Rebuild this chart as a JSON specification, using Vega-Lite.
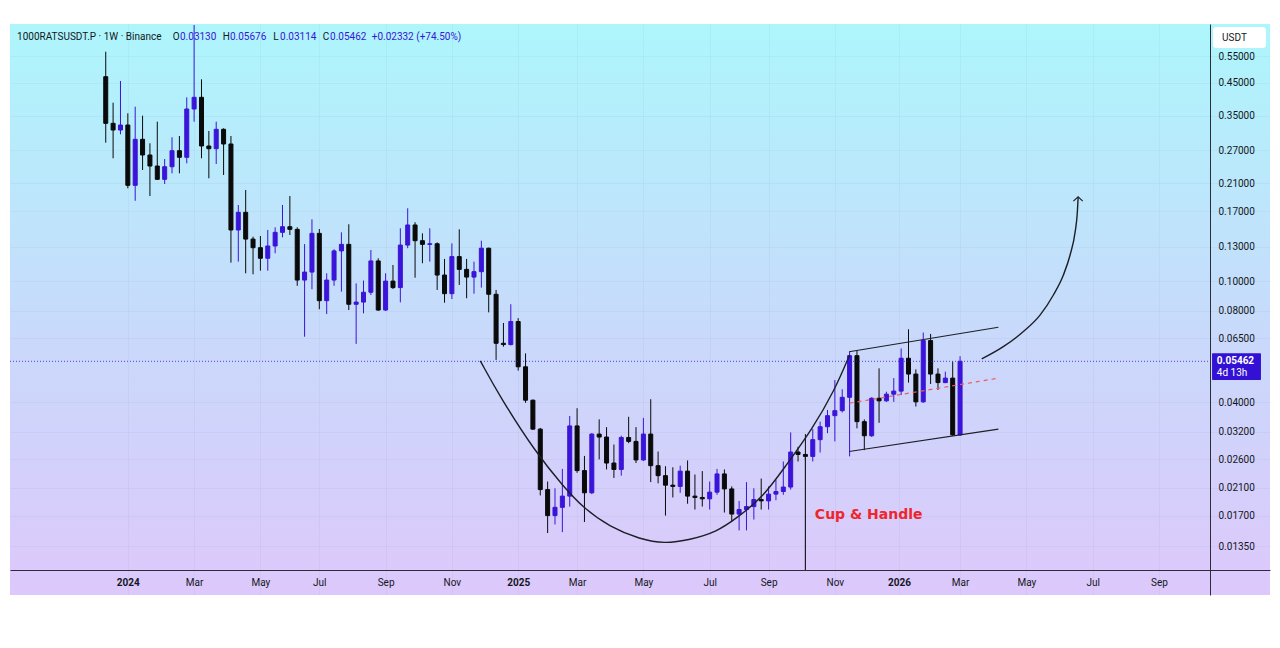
{
  "$schema": "https://vega.github.io/schema/vega-lite/v6.json",
  "width": 1260,
  "height": 571,
  "autosize": {"type": "none"},
  "padding": {"left": 10, "top": 24, "right": 10, "bottom": 53},
  "background": "#ffffff",
  "view": {
    "stroke": null,
    "fill": {"gradient": "linear", "x1": 0, "y1": 0, "x2": 0, "y2": 1,
      "stops": [{"offset": 0, "color": "#adf6fc"}, {"offset": 0.55, "color": "#c9d9fb"}, {"offset": 1, "color": "#ddc8fb"}]}
  },
  "config": {"font": "Roboto"},
  "data": {"values": [{}]},
  "datasets": {
    "candles": [
      {"t": "2023-12-11", "o": 0.4703, "h": 0.5682, "l": 0.2855, "c": 0.3305},
      {"t": "2023-12-18", "o": 0.3305, "h": 0.3863, "l": 0.2537, "c": 0.3142},
      {"t": "2023-12-25", "o": 0.3142, "h": 0.4553, "l": 0.3042, "c": 0.3263},
      {"t": "2024-01-01", "o": 0.3263, "h": 0.3566, "l": 0.2022, "c": 0.2068},
      {"t": "2024-01-08", "o": 0.2068, "h": 0.3748, "l": 0.1840, "c": 0.2929},
      {"t": "2024-01-15", "o": 0.2929, "h": 0.3502, "l": 0.2322, "c": 0.2601},
      {"t": "2024-01-22", "o": 0.2601, "h": 0.2842, "l": 0.1907, "c": 0.2393},
      {"t": "2024-01-29", "o": 0.2393, "h": 0.3346, "l": 0.2153, "c": 0.2164},
      {"t": "2024-02-05", "o": 0.2164, "h": 0.2523, "l": 0.2089, "c": 0.2380},
      {"t": "2024-02-12", "o": 0.2380, "h": 0.2974, "l": 0.2265, "c": 0.2687},
      {"t": "2024-02-19", "o": 0.2687, "h": 0.3003, "l": 0.2265, "c": 0.2556},
      {"t": "2024-02-26", "o": 0.2556, "h": 0.4024, "l": 0.2442, "c": 0.3684},
      {"t": "2024-03-04", "o": 0.3684, "h": 0.6953, "l": 0.3346, "c": 0.4024},
      {"t": "2024-03-11", "o": 0.4024, "h": 0.4611, "l": 0.2537, "c": 0.2784},
      {"t": "2024-03-18", "o": 0.2784, "h": 0.3119, "l": 0.2181, "c": 0.2728},
      {"t": "2024-03-25", "o": 0.2728, "h": 0.3346, "l": 0.2430, "c": 0.3159},
      {"t": "2024-04-01", "o": 0.3159, "h": 0.3183, "l": 0.2236, "c": 0.2827},
      {"t": "2024-04-08", "o": 0.2827, "h": 0.3003, "l": 0.1152, "c": 0.1475},
      {"t": "2024-04-15", "o": 0.1475, "h": 0.1782, "l": 0.1161, "c": 0.1686},
      {"t": "2024-04-22", "o": 0.1686, "h": 0.1996, "l": 0.1063, "c": 0.1377},
      {"t": "2024-04-29", "o": 0.1377, "h": 0.1402, "l": 0.1055, "c": 0.1290},
      {"t": "2024-05-06", "o": 0.1290, "h": 0.1409, "l": 0.1084, "c": 0.1191},
      {"t": "2024-05-13", "o": 0.1191, "h": 0.1475, "l": 0.1084, "c": 0.1307},
      {"t": "2024-05-20", "o": 0.1307, "h": 0.1505, "l": 0.1237, "c": 0.1449},
      {"t": "2024-05-27", "o": 0.1449, "h": 0.1782, "l": 0.1395, "c": 0.1512},
      {"t": "2024-06-03", "o": 0.1512, "h": 0.1907, "l": 0.1420, "c": 0.1482},
      {"t": "2024-06-10", "o": 0.1482, "h": 0.1505, "l": 0.0967, "c": 0.1010},
      {"t": "2024-06-17", "o": 0.1010, "h": 0.1326, "l": 0.0658, "c": 0.1073},
      {"t": "2024-06-24", "o": 0.1073, "h": 0.1599, "l": 0.0942, "c": 0.1438},
      {"t": "2024-07-01", "o": 0.1438, "h": 0.1486, "l": 0.0810, "c": 0.0864},
      {"t": "2024-07-08", "o": 0.0864, "h": 0.1063, "l": 0.0781, "c": 0.1010},
      {"t": "2024-07-15", "o": 0.1010, "h": 0.1275, "l": 0.0967, "c": 0.1259},
      {"t": "2024-07-22", "o": 0.1259, "h": 0.1449, "l": 0.0925, "c": 0.1323},
      {"t": "2024-07-29", "o": 0.1323, "h": 0.1540, "l": 0.0805, "c": 0.0841},
      {"t": "2024-08-05", "o": 0.0841, "h": 0.0985, "l": 0.0623, "c": 0.0855},
      {"t": "2024-08-12", "o": 0.0855, "h": 0.1006, "l": 0.0785, "c": 0.0921},
      {"t": "2024-08-19", "o": 0.0921, "h": 0.1268, "l": 0.0902, "c": 0.1167},
      {"t": "2024-08-26", "o": 0.1167, "h": 0.1191, "l": 0.0800, "c": 0.0805},
      {"t": "2024-09-02", "o": 0.0805, "h": 0.1063, "l": 0.0800, "c": 0.1002},
      {"t": "2024-09-09", "o": 0.1002, "h": 0.1132, "l": 0.0944, "c": 0.0954},
      {"t": "2024-09-16", "o": 0.0954, "h": 0.1494, "l": 0.0853, "c": 0.1316},
      {"t": "2024-09-23", "o": 0.1316, "h": 0.1738, "l": 0.1285, "c": 0.1532},
      {"t": "2024-09-30", "o": 0.1532, "h": 0.1564, "l": 0.1028, "c": 0.1360},
      {"t": "2024-10-07", "o": 0.1360, "h": 0.1438, "l": 0.1147, "c": 0.1323},
      {"t": "2024-10-14", "o": 0.1323, "h": 0.1494, "l": 0.1161, "c": 0.1329},
      {"t": "2024-10-21", "o": 0.1329, "h": 0.1343, "l": 0.0937, "c": 0.1049},
      {"t": "2024-10-28", "o": 0.1049, "h": 0.1185, "l": 0.0851, "c": 0.0911},
      {"t": "2024-11-04", "o": 0.0911, "h": 0.1333, "l": 0.0875, "c": 0.1206},
      {"t": "2024-11-11", "o": 0.1206, "h": 0.1482, "l": 0.0973, "c": 0.1095},
      {"t": "2024-11-18", "o": 0.1095, "h": 0.1185, "l": 0.0880, "c": 0.1033},
      {"t": "2024-11-25", "o": 0.1033, "h": 0.1161, "l": 0.0911, "c": 0.1076},
      {"t": "2024-12-02", "o": 0.1076, "h": 0.1360, "l": 0.0954, "c": 0.1285},
      {"t": "2024-12-09", "o": 0.1285, "h": 0.1290, "l": 0.0791, "c": 0.0907},
      {"t": "2024-12-16", "o": 0.0907, "h": 0.0937, "l": 0.0552, "c": 0.0626},
      {"t": "2024-12-23", "o": 0.0626, "h": 0.0730, "l": 0.0610, "c": 0.0620},
      {"t": "2024-12-30", "o": 0.0620, "h": 0.0841, "l": 0.0616, "c": 0.0738},
      {"t": "2025-01-06", "o": 0.0738, "h": 0.0757, "l": 0.0509, "c": 0.0524},
      {"t": "2025-01-13", "o": 0.0524, "h": 0.0580, "l": 0.0399, "c": 0.0407},
      {"t": "2025-01-20", "o": 0.0407, "h": 0.0409, "l": 0.0325, "c": 0.0327},
      {"t": "2025-01-27", "o": 0.0327, "h": 0.0330, "l": 0.0198, "c": 0.0207},
      {"t": "2025-02-03", "o": 0.0207, "h": 0.0220, "l": 0.0149, "c": 0.0170},
      {"t": "2025-02-10", "o": 0.0170, "h": 0.0209, "l": 0.0159, "c": 0.0181},
      {"t": "2025-02-17", "o": 0.0181, "h": 0.0242, "l": 0.0150, "c": 0.0197},
      {"t": "2025-02-24", "o": 0.0197, "h": 0.0361, "l": 0.0182, "c": 0.0335},
      {"t": "2025-03-03", "o": 0.0335, "h": 0.0383, "l": 0.0235, "c": 0.0239},
      {"t": "2025-03-10", "o": 0.0239, "h": 0.0267, "l": 0.0162, "c": 0.0202},
      {"t": "2025-03-17", "o": 0.0202, "h": 0.0317, "l": 0.0200, "c": 0.0315},
      {"t": "2025-03-24", "o": 0.0315, "h": 0.0352, "l": 0.0260, "c": 0.0308},
      {"t": "2025-03-31", "o": 0.0308, "h": 0.0332, "l": 0.0241, "c": 0.0253},
      {"t": "2025-04-07", "o": 0.0253, "h": 0.0291, "l": 0.0226, "c": 0.0241},
      {"t": "2025-04-14", "o": 0.0241, "h": 0.0311, "l": 0.0230, "c": 0.0307},
      {"t": "2025-04-21", "o": 0.0307, "h": 0.0359, "l": 0.0294, "c": 0.0298},
      {"t": "2025-04-28", "o": 0.0298, "h": 0.0332, "l": 0.0253, "c": 0.0259},
      {"t": "2025-05-05", "o": 0.0259, "h": 0.0356, "l": 0.0257, "c": 0.0315},
      {"t": "2025-05-12", "o": 0.0315, "h": 0.0410, "l": 0.0219, "c": 0.0248},
      {"t": "2025-05-19", "o": 0.0248, "h": 0.0276, "l": 0.0217, "c": 0.0230},
      {"t": "2025-05-26", "o": 0.0230, "h": 0.0247, "l": 0.0170, "c": 0.0214},
      {"t": "2025-06-02", "o": 0.0214, "h": 0.0245, "l": 0.0195, "c": 0.0212},
      {"t": "2025-06-09", "o": 0.0212, "h": 0.0248, "l": 0.0202, "c": 0.0238},
      {"t": "2025-06-16", "o": 0.0238, "h": 0.0258, "l": 0.0186, "c": 0.0197},
      {"t": "2025-06-23", "o": 0.0197, "h": 0.0232, "l": 0.0178, "c": 0.0195},
      {"t": "2025-06-30", "o": 0.0195, "h": 0.0238, "l": 0.0182, "c": 0.0193},
      {"t": "2025-07-07", "o": 0.0193, "h": 0.0220, "l": 0.0178, "c": 0.0203},
      {"t": "2025-07-14", "o": 0.0203, "h": 0.0242, "l": 0.0199, "c": 0.0233},
      {"t": "2025-07-21", "o": 0.0233, "h": 0.0241, "l": 0.0174, "c": 0.0208},
      {"t": "2025-07-28", "o": 0.0208, "h": 0.0212, "l": 0.0163, "c": 0.0172},
      {"t": "2025-08-04", "o": 0.0172, "h": 0.0190, "l": 0.0152, "c": 0.0178},
      {"t": "2025-08-11", "o": 0.0178, "h": 0.0219, "l": 0.0152, "c": 0.0182},
      {"t": "2025-08-18", "o": 0.0182, "h": 0.0209, "l": 0.0165, "c": 0.0192},
      {"t": "2025-08-25", "o": 0.0192, "h": 0.0225, "l": 0.0178, "c": 0.0190},
      {"t": "2025-09-01", "o": 0.0190, "h": 0.0212, "l": 0.0178, "c": 0.0200},
      {"t": "2025-09-08", "o": 0.0200, "h": 0.0223, "l": 0.0191, "c": 0.0204},
      {"t": "2025-09-15", "o": 0.0204, "h": 0.0256, "l": 0.0199, "c": 0.0211},
      {"t": "2025-09-22", "o": 0.0211, "h": 0.0319, "l": 0.0207, "c": 0.0275},
      {"t": "2025-09-29", "o": 0.0275, "h": 0.0286, "l": 0.0256, "c": 0.0270},
      {"t": "2025-10-06", "o": 0.0270, "h": 0.0315, "l": 0.0258, "c": 0.0266},
      {"t": "2025-10-13", "o": 0.0266, "h": 0.0327, "l": 0.0256, "c": 0.0302},
      {"t": "2025-10-20", "o": 0.0302, "h": 0.0346, "l": 0.0274, "c": 0.0333},
      {"t": "2025-10-27", "o": 0.0333, "h": 0.0378, "l": 0.0317, "c": 0.0362},
      {"t": "2025-11-03", "o": 0.0362, "h": 0.0474, "l": 0.0298, "c": 0.0376},
      {"t": "2025-11-10", "o": 0.0376, "h": 0.0442, "l": 0.0371, "c": 0.0416},
      {"t": "2025-11-17", "o": 0.0416, "h": 0.0587, "l": 0.0266, "c": 0.0570},
      {"t": "2025-11-24", "o": 0.0570, "h": 0.0592, "l": 0.0329, "c": 0.0346},
      {"t": "2025-12-01", "o": 0.0346, "h": 0.0352, "l": 0.0279, "c": 0.0311},
      {"t": "2025-12-08", "o": 0.0311, "h": 0.0416, "l": 0.0308, "c": 0.0413},
      {"t": "2025-12-15", "o": 0.0413, "h": 0.0518, "l": 0.0343, "c": 0.0405},
      {"t": "2025-12-22", "o": 0.0405, "h": 0.0434, "l": 0.0402, "c": 0.0426},
      {"t": "2025-12-29", "o": 0.0426, "h": 0.0481, "l": 0.0402, "c": 0.0436},
      {"t": "2026-01-05", "o": 0.0436, "h": 0.0602, "l": 0.0423, "c": 0.0559},
      {"t": "2026-01-12", "o": 0.0559, "h": 0.0696, "l": 0.0465, "c": 0.0496},
      {"t": "2026-01-19", "o": 0.0496, "h": 0.0514, "l": 0.0388, "c": 0.0402},
      {"t": "2026-01-26", "o": 0.0402, "h": 0.0679, "l": 0.0399, "c": 0.0639},
      {"t": "2026-02-02", "o": 0.0639, "h": 0.0672, "l": 0.0460, "c": 0.0496},
      {"t": "2026-02-09", "o": 0.0496, "h": 0.0518, "l": 0.0440, "c": 0.0465},
      {"t": "2026-02-16", "o": 0.0465, "h": 0.0505, "l": 0.0463, "c": 0.0481},
      {"t": "2026-02-23", "o": 0.0481, "h": 0.0545, "l": 0.0311, "c": 0.0313},
      {"t": "2026-03-02", "o": 0.03130, "h": 0.05676, "l": 0.03114, "c": 0.05462}
    ],
    "cup": [
      {"t": "2024-12-01T00:00:00Z", "p": 0.0548},
      {"t": "2024-12-20T00:00:00Z", "p": 0.0416},
      {"t": "2025-01-23T00:00:00Z", "p": 0.0273},
      {"t": "2025-02-18T00:00:00Z", "p": 0.0212},
      {"t": "2025-03-09T00:00:00Z", "p": 0.0180},
      {"t": "2025-04-03T00:00:00Z", "p": 0.0156},
      {"t": "2025-05-02T00:00:00Z", "p": 0.0142},
      {"t": "2025-05-25T00:00:00Z", "p": 0.01375},
      {"t": "2025-06-18T00:00:00Z", "p": 0.01414},
      {"t": "2025-07-14T00:00:00Z", "p": 0.01504},
      {"t": "2025-08-02T00:00:00Z", "p": 0.01671},
      {"t": "2025-08-27T00:00:00Z", "p": 0.0196},
      {"t": "2025-09-17T00:00:00Z", "p": 0.0247},
      {"t": "2025-10-12T00:00:00Z", "p": 0.0325},
      {"t": "2025-11-03T00:00:00Z", "p": 0.0440},
      {"t": "2025-11-17T00:00:00Z", "p": 0.0573}
    ],
    "arrow": [
      {"t": "2026-03-22T14:00:00Z", "p": 0.0556},
      {"t": "2026-04-12T02:00:00Z", "p": 0.0610},
      {"t": "2026-05-01T05:00:00Z", "p": 0.0684},
      {"t": "2026-05-17T00:00:00Z", "p": 0.0775},
      {"t": "2026-05-29T17:00:00Z", "p": 0.0902},
      {"t": "2026-06-08T05:00:00Z", "p": 0.1049},
      {"t": "2026-06-14T14:00:00Z", "p": 0.1221},
      {"t": "2026-06-19T10:00:00Z", "p": 0.1456},
      {"t": "2026-06-21T12:00:00Z", "p": 0.1693},
      {"t": "2026-06-22T05:00:00Z", "p": 0.1883}
    ],
    "lines": [
      {"s": "upper", "t": "2025-11-16T12:00:00Z", "p": 0.0587},
      {"s": "upper", "t": "2026-04-07T10:00:00Z", "p": 0.0707},
      {"s": "lower", "t": "2025-11-16T12:00:00Z", "p": 0.0276},
      {"s": "lower", "t": "2026-04-07T10:00:00Z", "p": 0.0327},
      {"s": "head", "t": "2026-06-17T17:00:00Z", "p": 0.1836},
      {"s": "head", "t": "2026-06-22T05:00:00Z", "p": 0.1897},
      {"s": "head", "t": "2026-06-26T14:00:00Z", "p": 0.1836}
    ],
    "midline": [
      {"t": "2025-11-17T00:00:00Z", "p": 0.0398},
      {"t": "2026-04-07T10:00:00Z", "p": 0.0481}
    ]
  },
  "layer": [
    {
      "data": {"name": "candles"},
      "mark": {"type": "rule", "strokeWidth": 1},
      "encoding": {
        "x": {
          "field": "t", "type": "temporal", "title": null,
          "scale": {"type": "utc", "nice": false, "padding": 0,
            "domain": [{"year": 2023, "month": 9, "date": 11, "utc": true}, {"year": 2026, "month": 12, "date": 21, "hours": 14, "utc": true}]},
          "axis": {
            "orient": "bottom", "offset": -25, "title": null,
            "values": [
              {"year": 2024, "month": 1, "date": 1, "utc": true},
              {"year": 2024, "month": 3, "date": 4, "utc": true},
              {"year": 2024, "month": 5, "date": 6, "utc": true},
              {"year": 2024, "month": 7, "date": 1, "utc": true},
              {"year": 2024, "month": 9, "date": 2, "utc": true},
              {"year": 2024, "month": 11, "date": 4, "utc": true},
              {"year": 2025, "month": 1, "date": 6, "utc": true},
              {"year": 2025, "month": 3, "date": 3, "utc": true},
              {"year": 2025, "month": 5, "date": 5, "utc": true},
              {"year": 2025, "month": 7, "date": 7, "utc": true},
              {"year": 2025, "month": 9, "date": 1, "utc": true},
              {"year": 2025, "month": 11, "date": 3, "utc": true},
              {"year": 2026, "month": 1, "date": 3, "utc": true},
              {"year": 2026, "month": 3, "date": 2, "utc": true},
              {"year": 2026, "month": 5, "date": 4, "utc": true},
              {"year": 2026, "month": 7, "date": 6, "utc": true},
              {"year": 2026, "month": 9, "date": 7, "utc": true}
            ],
            "labelExpr": "utcmonth(datum.value) == 0 ? utcFormat(datum.value, '%Y') : utcFormat(datum.value, '%b')",
            "labelFontWeight": {"condition": {"test": "utcmonth(datum.value) == 0", "value": "bold"}, "value": "normal"},
            "labelFont": "Roboto", "labelFontSize": 10, "labelColor": "#131722",
            "labelPadding": 7, "labelOverlap": false, "labelFlush": false,
            "ticks": false, "domainColor": "#2a2e39", "domainWidth": 1,
            "grid": true, "gridColor": "#2a2e39", "gridOpacity": 0.04
          }
        },
        "y": {
          "field": "l", "type": "quantitative", "title": null,
          "scale": {"type": "log", "domain": [0.009324, 0.7007], "nice": false, "zero": false},
          "axis": {
            "orient": "right", "offset": -60, "title": null,
            "values": [0.55, 0.45, 0.35, 0.27, 0.21, 0.17, 0.13, 0.1, 0.08, 0.065, 0.04, 0.032, 0.026, 0.021, 0.017, 0.0135],
            "format": ".5f", "labelFont": "Roboto", "labelFontSize": 10, "labelColor": "#131722",
            "labelPadding": 8, "ticks": false, "domainColor": "#2a2e39", "domainWidth": 1,
            "grid": true, "gridColor": "#2a2e39", "gridOpacity": 0.04
          }
        },
        "y2": {"field": "h"},
        "color": {"condition": {"test": "datum.c > datum.o", "value": "#3a14d8"}, "value": "#0a0a0a"}
      }
    },
    {
      "data": {"name": "candles"},
      "mark": {"type": "bar", "size": 4, "strokeWidth": 1},
      "encoding": {
        "x": {"field": "t", "type": "temporal", "scale": {"type": "utc"}},
        "y": {"field": "o", "type": "quantitative"},
        "y2": {"field": "c"},
        "color": {"condition": {"test": "datum.c > datum.o", "value": "#3a14d8"}, "value": "#0a0a0a"},
        "stroke": {"condition": {"test": "datum.c > datum.o", "value": "#3a14d8"}, "value": "#0a0a0a"}
      }
    },
    {
      "mark": {"type": "rule", "strokeWidth": 1, "strokeDash": [1, 2], "color": "#3a14d8", "opacity": 0.8},
      "encoding": {
        "x": {"datum": {"year": 2023, "month": 9, "date": 11, "utc": true}, "type": "temporal", "scale": {"type": "utc"}},
        "x2": {"datum": {"year": 2026, "month": 10, "date": 25, "hours": 14, "utc": true}},
        "y": {"datum": 0.05462, "type": "quantitative"}
      }
    },
    {
      "data": {"name": "cup"},
      "mark": {"type": "line", "interpolate": "basis", "strokeWidth": 1.4, "color": "#1c1f26"},
      "encoding": {
        "x": {"field": "t", "type": "temporal", "scale": {"type": "utc"}},
        "y": {"field": "p", "type": "quantitative"}
      }
    },
    {
      "data": {"name": "arrow"},
      "mark": {"type": "line", "interpolate": "monotone", "strokeWidth": 1.4, "color": "#1c1f26"},
      "encoding": {
        "x": {"field": "t", "type": "temporal", "scale": {"type": "utc"}},
        "y": {"field": "p", "type": "quantitative"}
      }
    },
    {
      "data": {"name": "lines"},
      "mark": {"type": "line", "strokeWidth": 1.1, "color": "#1c1f26"},
      "encoding": {
        "x": {"field": "t", "type": "temporal", "scale": {"type": "utc"}},
        "y": {"field": "p", "type": "quantitative"},
        "detail": {"field": "s"}
      }
    },
    {
      "data": {"name": "midline"},
      "mark": {"type": "line", "strokeWidth": 1.2, "strokeDash": [4, 4], "color": "#ee5a5a"},
      "encoding": {
        "x": {"field": "t", "type": "temporal", "scale": {"type": "utc"}},
        "y": {"field": "p", "type": "quantitative"}
      }
    },
    {
      "mark": {"type": "rule", "strokeWidth": 1.2, "color": "#1c1f26"},
      "encoding": {
        "x": {"datum": {"year": 2025, "month": 10, "date": 6, "utc": true}, "type": "temporal", "scale": {"type": "utc"}},
        "y": {"datum": 0.0266, "type": "quantitative"},
        "y2": {"datum": 0.01127}
      }
    },
    {
      "mark": {"type": "text", "align": "left", "baseline": "middle", "font": "DejaVu Sans", "fontSize": 14, "fontWeight": "bold", "color": "#f0242b"},
      "encoding": {
        "x": {"datum": {"year": 2025, "month": 10, "date": 15, "utc": true}, "type": "temporal", "scale": {"type": "utc"}},
        "y": {"datum": 0.0171, "type": "quantitative"},
        "text": {"value": "Cup & Handle"}
      }
    },
    {
      "mark": {"type": "text", "align": "left", "baseline": "middle", "fontSize": 10, "color": "#131722"},
      "encoding": {
        "x": {"datum": {"year": 2023, "month": 9, "date": 17, "hours": 17, "utc": true}, "type": "temporal", "scale": {"type": "utc"}},
        "y": {"datum": 0.6335, "type": "quantitative"},
        "text": {"value": "1000RATSUSDT.P · 1W · Binance"}
      }
    },
    {
      "mark": {"type": "text", "align": "left", "baseline": "middle", "fontSize": 10, "color": "#131722"},
      "encoding": {
        "x": {"datum": {"year": 2024, "month": 2, "date": 12, "hours": 17, "utc": true}, "type": "temporal", "scale": {"type": "utc"}},
        "y": {"datum": 0.6335, "type": "quantitative"},
        "text": {"value": "O"}
      }
    },
    {
      "mark": {"type": "text", "align": "left", "baseline": "middle", "fontSize": 10, "color": "#3a14d8"},
      "encoding": {
        "x": {"datum": {"year": 2024, "month": 2, "date": 19, "hours": 14, "utc": true}, "type": "temporal", "scale": {"type": "utc"}},
        "y": {"datum": 0.6335, "type": "quantitative"},
        "text": {"value": "0.03130"}
      }
    },
    {
      "mark": {"type": "text", "align": "left", "baseline": "middle", "fontSize": 10, "color": "#131722"},
      "encoding": {
        "x": {"datum": {"year": 2024, "month": 3, "date": 31, "hours": 5, "utc": true}, "type": "temporal", "scale": {"type": "utc"}},
        "y": {"datum": 0.6335, "type": "quantitative"},
        "text": {"value": "H"}
      }
    },
    {
      "mark": {"type": "text", "align": "left", "baseline": "middle", "fontSize": 10, "color": "#3a14d8"},
      "encoding": {
        "x": {"datum": {"year": 2024, "month": 4, "date": 7, "hours": 2, "utc": true}, "type": "temporal", "scale": {"type": "utc"}},
        "y": {"datum": 0.6335, "type": "quantitative"},
        "text": {"value": "0.05676"}
      }
    },
    {
      "mark": {"type": "text", "align": "left", "baseline": "middle", "fontSize": 10, "color": "#131722"},
      "encoding": {
        "x": {"datum": {"year": 2024, "month": 5, "date": 18, "hours": 7, "utc": true}, "type": "temporal", "scale": {"type": "utc"}},
        "y": {"datum": 0.6335, "type": "quantitative"},
        "text": {"value": "L"}
      }
    },
    {
      "mark": {"type": "text", "align": "left", "baseline": "middle", "fontSize": 10, "color": "#3a14d8"},
      "encoding": {
        "x": {"datum": {"year": 2024, "month": 5, "date": 24, "hours": 17, "utc": true}, "type": "temporal", "scale": {"type": "utc"}},
        "y": {"datum": 0.6335, "type": "quantitative"},
        "text": {"value": "0.03114"}
      }
    },
    {
      "mark": {"type": "text", "align": "left", "baseline": "middle", "fontSize": 10, "color": "#131722"},
      "encoding": {
        "x": {"datum": {"year": 2024, "month": 7, "date": 4, "hours": 5, "utc": true}, "type": "temporal", "scale": {"type": "utc"}},
        "y": {"datum": 0.6335, "type": "quantitative"},
        "text": {"value": "C"}
      }
    },
    {
      "mark": {"type": "text", "align": "left", "baseline": "middle", "fontSize": 10, "color": "#3a14d8"},
      "encoding": {
        "x": {"datum": {"year": 2024, "month": 7, "date": 11, "hours": 5, "utc": true}, "type": "temporal", "scale": {"type": "utc"}},
        "y": {"datum": 0.6335, "type": "quantitative"},
        "text": {"value": "0.05462"}
      }
    },
    {
      "mark": {"type": "text", "align": "left", "baseline": "middle", "fontSize": 10, "color": "#3a14d8"},
      "encoding": {
        "x": {"datum": {"year": 2024, "month": 8, "date": 19, "hours": 19, "utc": true}, "type": "temporal", "scale": {"type": "utc"}},
        "y": {"datum": 0.6335, "type": "quantitative"},
        "text": {"value": "+0.02332 (+74.50%)"}
      }
    },
    {
      "mark": {"type": "rect", "color": "#3311d4", "cornerRadius": 1},
      "encoding": {
        "x": {"datum": {"year": 2026, "month": 10, "date": 27, "hours": 12, "utc": true}, "type": "temporal", "scale": {"type": "utc"}},
        "x2": {"datum": {"year": 2026, "month": 12, "date": 13, "utc": true}},
        "y": {"datum": 0.0581, "type": "quantitative"},
        "y2": {"datum": 0.0474}
      }
    },
    {
      "mark": {"type": "text", "align": "left", "baseline": "middle", "fontSize": 10, "fontWeight": "bold", "color": "#ffffff"},
      "encoding": {
        "x": {"datum": {"year": 2026, "month": 11, "date": 1, "utc": true}, "type": "temporal", "scale": {"type": "utc"}},
        "y": {"datum": 0.0548, "type": "quantitative"},
        "text": {"value": "0.05462"}
      }
    },
    {
      "mark": {"type": "text", "align": "left", "baseline": "middle", "fontSize": 10, "color": "#ffffff"},
      "encoding": {
        "x": {"datum": {"year": 2026, "month": 11, "date": 1, "utc": true}, "type": "temporal", "scale": {"type": "utc"}},
        "y": {"datum": 0.0500, "type": "quantitative"},
        "text": {"value": "4d 13h"}
      }
    },
    {
      "mark": {"type": "rect", "color": "#ffffff", "cornerRadius": 3},
      "encoding": {
        "x": {"datum": {"year": 2026, "month": 10, "date": 28, "hours": 10, "utc": true}, "type": "temporal", "scale": {"type": "utc"}},
        "x2": {"datum": {"year": 2026, "month": 12, "date": 17, "hours": 19, "utc": true}},
        "y": {"datum": 0.6849, "type": "quantitative"},
        "y2": {"datum": 0.5843}
      }
    },
    {
      "mark": {"type": "text", "align": "left", "baseline": "middle", "fontSize": 10, "color": "#131722"},
      "encoding": {
        "x": {"datum": {"year": 2026, "month": 11, "date": 6, "utc": true}, "type": "temporal", "scale": {"type": "utc"}},
        "y": {"datum": 0.6302, "type": "quantitative"},
        "text": {"value": "USDT"}
      }
    }
  ]
}
